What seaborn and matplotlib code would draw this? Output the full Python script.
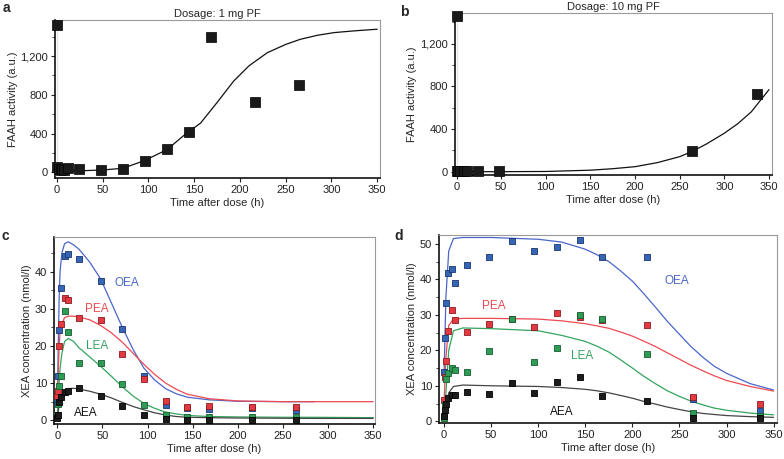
import matplotlib
matplotlib.use("Agg")
import matplotlib.pyplot as plt
import matplotlib.ticker as mticker
import pandas as pd
import seaborn as sns

# ---- panel a / b : FAAH activity ----
a_t = [0, 0, 2, 4, 6, 8, 12, 24, 48, 72, 96, 120, 144, 168, 216, 264]
a_y = [1520, 50, 30, 20, 30, 25, 40, 30, 20, 35, 120, 240, 420, 1400, 730, 905]
a_curve_t = [0, 25, 50, 72, 95, 120, 140, 157, 175, 193, 210, 230, 250, 266, 285, 303, 325, 350]
a_curve_y = [10, 15, 24, 41, 118, 232, 390, 508, 720, 940, 1100, 1235, 1320, 1373, 1415, 1442, 1460, 1477]

b_t = [0, 0, 2, 4, 8, 12, 24, 48, 264, 336]
b_y = [1460, 10, 10, 10, 10, 10, 10, 10, 195, 730]
b_curve_t = [0, 50, 100, 150, 175, 200, 225, 250, 264, 280, 300, 315, 330, 350]
b_curve_y = [0, 0, 2, 14, 28, 47, 85, 141, 190, 260, 361, 450, 560, 770]

# ---- panel c : 1 mg, XEA ----
c_t = [0, 1, 2, 4, 8, 12, 24, 48, 72, 96, 120, 144, 168, 216, 264]
c_oea = [5, 12, 24.3, 35.7, 44.2, 44.6, 43.4, 37.4, 24.6, 12, 4.2, 3.2, 3, 3.2, 2.7]
c_pea = [6.5, 7.8, 20, 26, 33, 32.3, 27.4, 27, 17.8, 11, 5.2, 3.6, 3.8, 3.5, 3.7]
c_lea = [1.5, 4.5, 9.3, 12, 29.3, 23.7, 15.5, 15.3, 9.8, 4, 1.5, 0.8, 0.9, 0.8, 0.8]
c_aea = [0.5, 1.5, 5, 6.3, 7.5, 8, 8.6, 6.6, 3.8, 1.3, 0.3, 0.2, 0.2, 0.1, 0.2]

c_curve_t = [0, 1, 2, 3, 5, 8, 12, 18, 24, 36, 48, 60, 72, 84, 96, 108, 120, 132, 144, 168, 200, 250, 285, 350]
c_oea_fit = [5, 20, 33, 40, 45, 47.5, 48, 47.2, 46, 42.5, 38, 31.5, 25, 19, 14, 10.8, 8.5, 7.1, 6.2, 5.5, 5.1, 5, 5, None]
c_pea_fit = [5, 13, 20, 23.5, 26, 27.6, 28, 28, 27.8, 27, 25.5, 23.5, 21, 18, 15, 12.3, 10, 8.3, 7, 5.8, 5.2, 5, 5, 5]
c_lea_fit = [1, 6, 10, 14, 18, 21.2, 22, 21.2, 19.5, 17, 14.5, 11.8, 9, 6.5, 4.5, 3.2, 2.2, 1.7, 1.3, 1.0, 0.9, 0.8, 0.8, 0.7]
c_aea_fit = [0.5, 2.5, 4, 5, 6.5, 8, 8.5, 8.6, 8.4, 7.8, 7, 6, 4.8, 3.7, 2.8, 2, 1.4, 1.0, 0.8, 0.7, 0.6, 0.55, 0.5, 0.5]

# ---- panel d : 10 mg, XEA ----
d_t = [0, 1, 2, 4, 8, 12, 24, 48, 72, 96, 120, 144, 168, 216, 264, 336]
d_oea = [14, 23.5, 33.2, 41.8, 43, 39, 44, 46.3, 50.7, 48, 49, 51, 46.4, 46.4, 6.2, 3]
d_pea = [6, 12.5, 17, 25.5, 31.3, 28.6, 25.2, 27.3, 28.8, 26.5, 30.6, 29.3, 28.6, 27.2, 6.8, 5]
d_lea = [1, 4.5, 12, 13.5, 15, 14.5, 14, 19.7, 28.8, 16.7, 20.7, 30, 28.8, 19, 2.2, 1.5]
d_aea = [1.5, 3.2, 5, 6.5, 7.3, 7.3, 8.3, 7.8, 10.9, 8.1, 11, 12.5, 7.1, 5.6, 1, 0.8]

d_curve_t = [0, 2, 5, 10, 20, 50, 100, 125, 150, 162, 175, 187, 200, 212, 225, 237, 250, 262, 275, 287, 300, 325, 350]
d_oea_fit = [13, 35, 48, 51.5, 51.8, 51.8, 51.3, 50.5, 48.5, 47, 45, 42.5, 39.5, 36, 32, 28.2, 24.5, 21.1, 18, 15.5, 13.5, 10.6, 8.8]
d_pea_fit = [5, 18, 27, 28.8, 29, 29, 28.8, 28.3, 27.5, 26.9, 26.2, 25.2, 24, 22.6, 21, 19.3, 17.5, 15.8, 14.2, 12.8, 11.5, 9.8, 8.5]
d_lea_fit = [1, 8, 20, 25.5, 26.3, 26.1, 25.5, 24.2, 22.5, 21.2, 19.5, 17.4, 15, 12.7, 10.5, 8.6, 7, 5.7, 4.6, 3.7, 3.1, 2.3, 1.8]
d_aea_fit = [1, 4, 8, 9.8, 10.2, 10, 9.8, 9.5, 9, 8.6, 8, 7.3, 6.5, 5.6, 4.8, 4, 3.3, 2.7, 2.2, 1.9, 1.6, 1.3, 1.1]

compounds = ["OEA", "PEA", "LEA", "AEA"]
fill = {"OEA": "#3565b5", "PEA": "#e23a40", "LEA": "#2f9c55", "AEA": "#1c1c1c"}
edge = {"OEA": "#1b3470", "PEA": "#8c1b20", "LEA": "#185c30", "AEA": "#000000"}
line = {"OEA": "#4a66c8", "PEA": "#ec4a52", "LEA": "#33a55e", "AEA": "#444444"}
label_pos_c = {"OEA": (77, 36.9), "PEA": (44, 29.8), "LEA": (44, 20), "AEA": (31, 2)}
label_pos_d = {"OEA": (247, 39.4), "PEA": (53, 32.5), "LEA": (147, 18.5), "AEA": (125, 2.5)}

FS = 8
sns.set_style("white")
plt.rcParams["font.family"] = ["Liberation Sans", "DejaVu Sans"]
plt.rcParams["font.size"] = FS


def style_axes(ax, xlim, ylim, ymajor, yminor, ylabel):
    ax.set_xlim(*xlim)
    ax.set_ylim(*ylim)
    ax.xaxis.set_major_locator(mticker.MultipleLocator(50))
    ax.yaxis.set_major_locator(mticker.MultipleLocator(ymajor))
    ax.yaxis.set_minor_locator(mticker.MultipleLocator(yminor))
    ax.yaxis.set_major_formatter(mticker.StrMethodFormatter("{x:,.0f}"))
    ax.tick_params(axis="both", which="major", direction="out", length=3, width=0.8,
                   labelsize=FS, pad=2, bottom=True, left=True, colors="#222222")
    ax.tick_params(axis="y", which="minor", direction="out", length=2, width=0.6, left=True)
    for side in ["top", "right"]:
        ax.spines[side].set_color("#9a9a9a")
        ax.spines[side].set_linewidth(0.8)
    for side in ["left", "bottom"]:
        ax.spines[side].set_color("#111111")
        ax.spines[side].set_linewidth(1.2)
    ax.set_xlabel("Time after dose (h)", fontsize=FS, labelpad=2)
    ax.set_ylabel(ylabel, fontsize=FS, labelpad=2)


def faah_panel(ax, t, y, ct, cy, title, ylim):
    base = y[0]
    sns.lineplot(x=[0.6, 0.6], y=[0, base], ax=ax, color="#8a8a8a", lw=1.0)
    sns.lineplot(x=ct, y=cy, ax=ax, color="#111111", lw=0.9, sort=False)
    sns.scatterplot(x=t, y=y, ax=ax, marker="s", s=50, color="#1a1a1a",
                    edgecolor="#000000", linewidth=0.5, zorder=5, clip_on=False)
    style_axes(ax, (-2, 353), ylim, 400, 200, "FAAH activity (a.u.)")
    ax.set_title(title, fontsize=FS, pad=2)


def xea_panel(ax, t, series, ct, fits, labels, xlim, ylim, ymajor):
    for name in compounds:
        df = pd.DataFrame({"t": ct, "v": fits[name]}).dropna()
        sns.lineplot(data=df, x="t", y="v", ax=ax, color=line[name], lw=0.9, sort=False)
    for name in compounds:
        sns.scatterplot(x=t, y=series[name], ax=ax, marker="s", s=22, color=fill[name],
                        edgecolor=edge[name], linewidth=0.6, zorder=5, clip_on=False)
    for name in compounds:
        lx, ly = labels[name]
        ax.text(lx, ly, name, color=line[name] if name != "AEA" else "#111111",
                fontsize=FS + 0.5, ha="center", va="center")
    style_axes(ax, xlim, ylim, ymajor, ymajor / 2, "XEA concentration (nmol/l)")


fig = plt.figure(figsize=(7.84, 4.59), dpi=100)
ax_a = fig.add_axes([0.0702, 0.612, 0.4145, 0.344])
ax_b = fig.add_axes([0.580, 0.619, 0.4043, 0.353])
ax_c = fig.add_axes([0.0689, 0.0763, 0.4094, 0.4074])
ax_d = fig.add_axes([0.560, 0.0784, 0.431, 0.4096])

faah_panel(ax_a, a_t, a_y, a_curve_t, a_curve_y, "Dosage: 1 mg PF", (-60, 1570))
faah_panel(ax_b, b_t, b_y, b_curve_t, b_curve_y, "Dosage: 10 mg PF", (-30, 1490))

xea_panel(ax_c, c_t, {"OEA": c_oea, "PEA": c_pea, "LEA": c_lea, "AEA": c_aea},
          c_curve_t, {"OEA": c_oea_fit, "PEA": c_pea_fit, "LEA": c_lea_fit, "AEA": c_aea_fit},
          label_pos_c, (-3.7, 352), (-1, 49.3), 10)
xea_panel(ax_d, d_t, {"OEA": d_oea, "PEA": d_pea, "LEA": d_lea, "AEA": d_aea},
          d_curve_t, {"OEA": d_oea_fit, "PEA": d_pea_fit, "LEA": d_lea_fit, "AEA": d_aea_fit},
          label_pos_d, (-5.3, 353.5), (-0.5, 52.5), 10)

# panel letters
for letter, (fx, fy) in {"a": (3, 8), "b": (400, 12), "c": (2, 236), "d": (394, 236)}.items():
    fig.text(fx / 784, 1 - fy / 459, letter, fontsize=10, fontweight="bold",
             ha="left", va="center")

fig.savefig("out.png", dpi=100)
